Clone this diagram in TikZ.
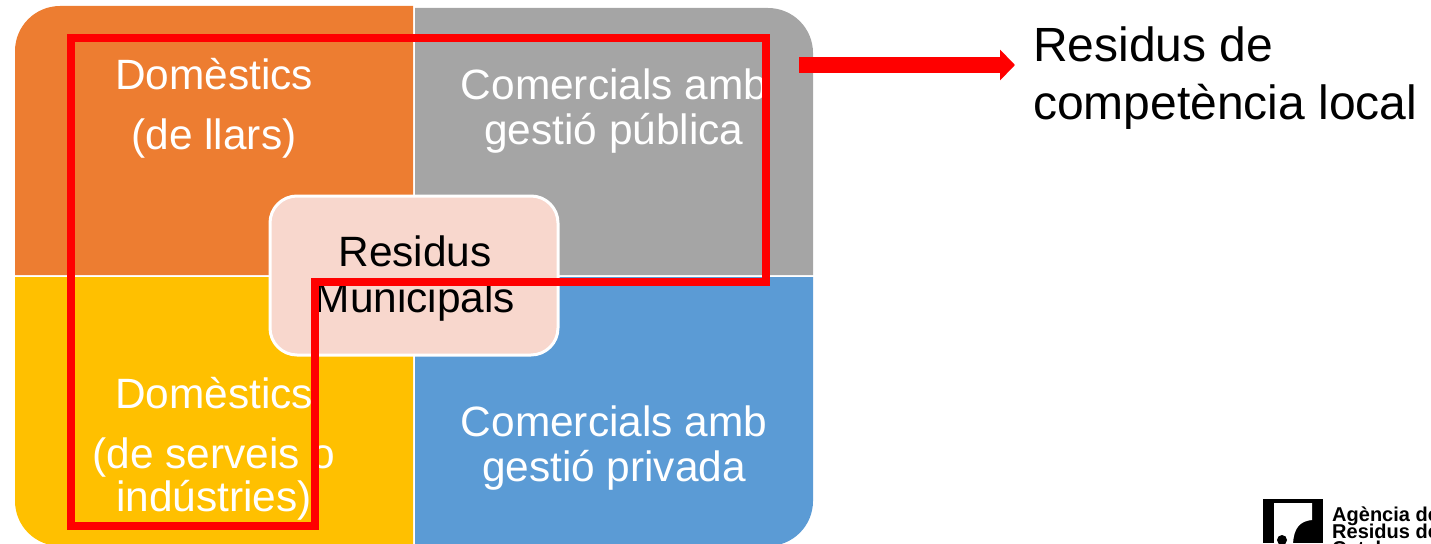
\documentclass[tikz,border=0pt]{standalone}
\usepackage{fontspec}
\setmainfont{Liberation Sans}
\usetikzlibrary{arrows.meta}

\definecolor{panelorange}{HTML}{ED7D31}
\definecolor{panelgray}{HTML}{A5A5A5}
\definecolor{panelyellow}{HTML}{FFC000}
\definecolor{panelblue}{HTML}{5B9BD5}
\definecolor{centrefill}{HTML}{F8D7CD}

\tikzset{
    paneltext/.style={text=white, align=center, inner sep=0pt, font=\fontsize{42.4}{45}\selectfont},
    widetext/.style={text=white, align=center, inner sep=0pt, font=\fontsize{42.4}{60}\selectfont},
    redline/.style={draw=red, line width=8pt, miter limit=10}
}

\begin{document}
\begin{tikzpicture}[x=1pt, y=-1pt]
        \useasboundingbox (0,0) rectangle (1431,543);

        % four panels
        \fill[panelorange] (413,275) -- (15,275) [rounded corners=45pt] -- (15,6) [sharp corners] -- (413,6) -- cycle;
        \fill[panelgray] (415,275) -- (415,8) [rounded corners=45pt] -- (813,8) [sharp corners] -- (813,275) -- cycle;
        \fill[panelyellow] (413,277) -- (15,277) [rounded corners=45pt] -- (15,546) [sharp corners] -- (413,546) -- cycle;
        \fill[panelblue] (415,277) -- (813,277) [rounded corners=45pt] -- (813,546) [sharp corners] -- (415,546) -- cycle;

        \node[widetext] (llars) at (214,108) {Domèstics\\(de llars)};
        \node[paneltext] (publica) at (614,111.5) {Comercials amb\\gestió pública};
        \node[widetext] (serveis) at (214,427) {Domèstics\\(de serveis o};
        \node[paneltext] (industries) at (214,500) {indústries)};
        \node[paneltext] (privada) at (614,448.5) {Comercials amb\\gestió privada};

        \node[draw=white, line width=3pt, fill=centrefill, rounded corners=27pt, minimum width=288pt, minimum height=159pt, inner sep=0pt] (centre) at (414,275.5) {};
        \node[inner sep=0pt, align=center, font=\fontsize{42.4}{46}\selectfont] (municipals) at (415,279) {Residus\\Municipals};

        % red outline
        \draw[redline] (71,38) -- (766,38) -- (766,282) -- (315,282) -- (315,526) -- (71,526) -- cycle;

        \node[anchor=west, align=left, inner sep=0pt, font=\fontsize{48}{58}\selectfont] (local) at (1033,78) {Residus de\\competència local};
        \coordinate (arrowstart) at (799,65);
        \coordinate (arrowend) at (1015,65);
        \draw[draw=red, line width=15pt, -{Triangle[length=15pt, width=30pt]}] (arrowstart) -- (arrowend);

        % logo
        \fill[black] (1263,499) rectangle (1323,543);
        \fill[white] (1274,503) -- (1312,503) -- (1312,520) .. controls (1300,521) and (1294,528) .. (1293,543) -- (1274,543) -- cycle;
        \fill[black] (1282,540) circle (5);
        \node[anchor=north west, align=left, inner sep=0pt, font=\fontsize{20}{20}\selectfont\bfseries] (agencia) at (1332,506.5) {Agència de\\[-3pt]Residus de\\[-3pt]Catalunya};
    \end{tikzpicture}
\end{document}
